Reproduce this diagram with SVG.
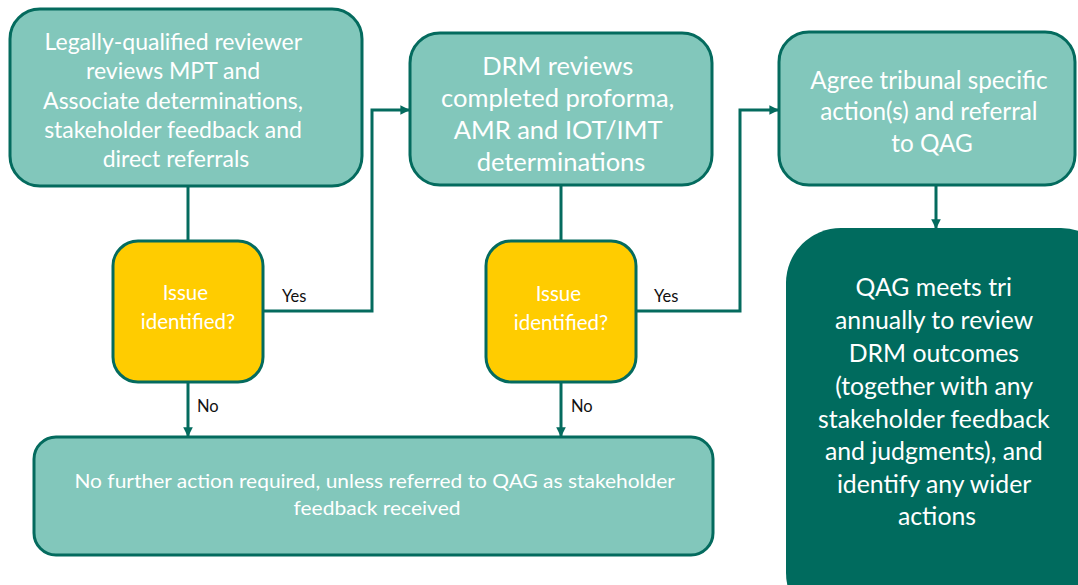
<svg xmlns="http://www.w3.org/2000/svg" width="1078" height="585" viewBox="0 0 1078 585">
<defs>
<style>
.box{fill:#82c7bb;stroke:#046b5e;stroke-width:3}
.dec{fill:#ffcc00;stroke:#046b5e;stroke-width:3}
.dark{fill:#006b5e;stroke:none}
.wt{fill:#ffffff;font-family:Lato,"Open Sans",sans-serif;text-anchor:middle}
.lbl{fill:#111111;font-family:Lato,"Open Sans",sans-serif;font-size:16.5px}
.ln{fill:none;stroke:#046b5e;stroke-width:3}
</style>
<marker id="ah" viewBox="0 0 10 10" refX="9" refY="5" markerWidth="3.2" markerHeight="3.2" orient="auto" markerUnits="strokeWidth">
<path d="M0,0 L10,5 L0,10 z" fill="#046b5e"/>
</marker>
</defs>
<rect width="1078" height="585" fill="#ffffff"/>
<g id="connectors">
<line class="ln" x1="188" y1="186" x2="188" y2="241"/>
<polyline class="ln" points="263,311 372,311 372,110 409,110" marker-end="url(#ah)"/>
<line class="ln" x1="188" y1="382" x2="188" y2="436" marker-end="url(#ah)"/>
<line class="ln" x1="561" y1="186" x2="561" y2="241"/>
<polyline class="ln" points="636,311 740,311 740,110 778,110" marker-end="url(#ah)"/>
<line class="ln" x1="561" y1="382" x2="561" y2="436" marker-end="url(#ah)"/>
<line class="ln" x1="936" y1="186" x2="936" y2="228" marker-end="url(#ah)"/>
<text class="lbl" x="282" y="302">Yes</text>
<text class="lbl" x="654" y="302">Yes</text>
<text class="lbl" x="197" y="412">No</text>
<text class="lbl" x="571" y="412">No</text>
</g>
<g id="node-reviewer">
<rect class="box" x="10" y="9" width="352" height="177" rx="30"/>
<text class="wt" font-size="23">
<tspan x="176" y="50">Legally-qualified reviewer</tspan>
<tspan x="176" y="79">reviews MPT and</tspan>
<tspan x="176" y="109">Associate determinations,</tspan>
<tspan x="176" y="138">stakeholder feedback and</tspan>
<tspan x="176" y="167">direct referrals</tspan>
</text>
</g>
<g id="node-drm">
<rect class="box" x="410" y="33" width="302" height="152" rx="30"/>
<text class="wt" font-size="25.5">
<tspan x="561" y="75">DRM reviews</tspan>
<tspan x="561" y="107">completed proforma,</tspan>
<tspan x="561" y="139">AMR and IOT/IMT</tspan>
<tspan x="561" y="171">determinations</tspan>
</text>
</g>
<g id="node-agree">
<rect class="box" x="779" y="32" width="296" height="153" rx="30"/>
<text class="wt" font-size="24.3">
<tspan x="932" y="89">Agree tribunal specific</tspan>
<tspan x="932" y="120">action(s) and referral</tspan>
<tspan x="932" y="152">to QAG</tspan>
</text>
</g>
<g id="node-qag">
<rect class="dark" x="786" y="228" width="330" height="400" rx="55"/>
<text class="wt" font-size="24.8">
<tspan x="937" y="296">QAG meets tri</tspan>
<tspan x="937" y="329">annually to review</tspan>
<tspan x="937" y="362">DRM outcomes</tspan>
<tspan x="937" y="395">(together with any</tspan>
<tspan x="937" y="428">stakeholder feedback</tspan>
<tspan x="937" y="460">and judgments), and</tspan>
<tspan x="937" y="493">identify any wider</tspan>
<tspan x="937" y="525">actions</tspan>
</text>
</g>
<g id="node-issue1">
<rect class="dec" x="113" y="241" width="150" height="141" rx="25"/>
<text class="wt" font-size="20.5">
<tspan x="188" y="300">Issue</tspan>
<tspan x="188" y="329">identified?</tspan>
</text>
</g>
<g id="node-issue2">
<rect class="dec" x="486" y="241" width="150" height="141" rx="25"/>
<text class="wt" font-size="20.5">
<tspan x="561" y="301">Issue</tspan>
<tspan x="561" y="330">identified?</tspan>
</text>
</g>
<g id="node-nofurther">
<rect class="box" x="34" y="437" width="679" height="118" rx="22"/>
<text class="wt" font-size="20">
<tspan x="377" y="488" textLength="600" lengthAdjust="spacingAndGlyphs">No further action required, unless referred to QAG as stakeholder</tspan>
<tspan x="377" y="515" textLength="167" lengthAdjust="spacingAndGlyphs">feedback received</tspan>
</text>
</g>
</svg>
